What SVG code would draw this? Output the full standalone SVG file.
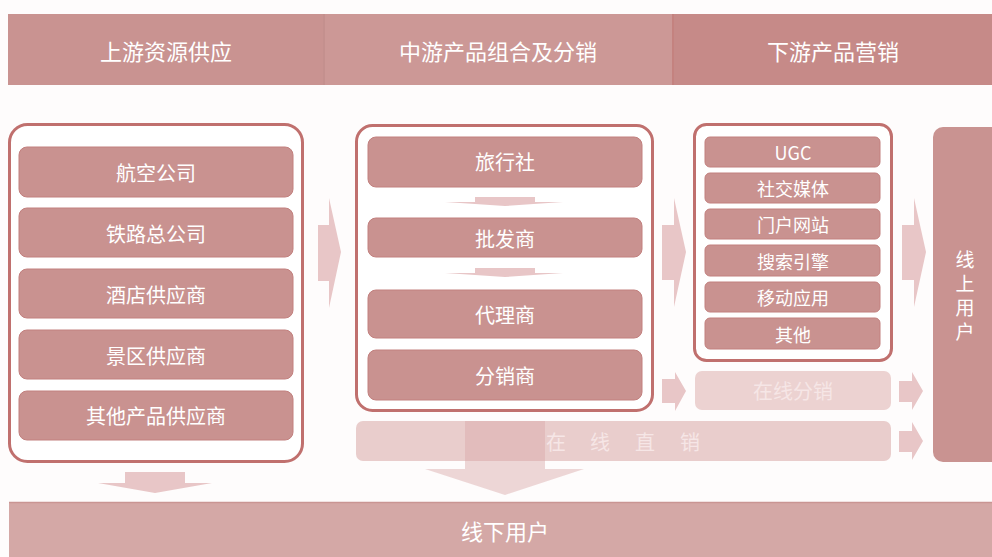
<svg xmlns="http://www.w3.org/2000/svg" width="992" height="557" viewBox="0 0 992 557">
<style>
text{font-family:"Noto Sans CJK SC","Noto Sans",sans-serif;fill:#ffffff;text-anchor:middle;dominant-baseline:central}
.hdr{font-size:22px}
.box{fill:#c99290;stroke:#c2807e;stroke-width:1}
.bt{font-size:20px}
.vt{font-size:19px;writing-mode:vertical-rl;letter-spacing:5px}
.st{font-size:18px}
.lt{font-size:20px;fill:#f6e6e6}
.cont{fill:#ffffff;stroke:#c0706e;stroke-width:3}
.arr{fill:#e8c6c7}
</style>
<rect width="992" height="557" fill="#fefcfc"/>
<g id="headers">
<rect x="8" y="14" width="316" height="71" fill="#c99391"/>
<rect x="324" y="14" width="349" height="71" fill="#cc9896"/>
<rect x="673" y="14" width="319" height="71" fill="#c68a88"/>
<line x1="324" y1="14" x2="324" y2="85" stroke="#c4908e" stroke-width="2"/>
<line x1="673" y1="14" x2="673" y2="85" stroke="#c4827f" stroke-width="2"/>
<text class="hdr" x="166" y="50">上游资源供应</text>
<text class="hdr" x="498" y="50">中游产品组合及分销</text>
<text class="hdr" x="833" y="50">下游产品营销</text>
</g>
<g id="upstream">
<rect class="cont" x="9.5" y="124.5" width="293" height="337" rx="18"/>
<g id="n-airline"><rect class="box" x="19" y="147" width="274" height="50" rx="8"/><text class="bt" x="156" y="172">航空公司</text></g>
<g id="n-rail"><rect class="box" x="19" y="208" width="274" height="49" rx="8"/><text class="bt" x="156" y="233">铁路总公司</text></g>
<g id="n-hotel"><rect class="box" x="19" y="269" width="274" height="49" rx="8"/><text class="bt" x="156" y="294">酒店供应商</text></g>
<g id="n-scenic"><rect class="box" x="19" y="330" width="274" height="49" rx="8"/><text class="bt" x="156" y="355">景区供应商</text></g>
<g id="n-other-sup"><rect class="box" x="19" y="391" width="274" height="49" rx="8"/><text class="bt" x="156" y="415">其他产品供应商</text></g>
</g>
<g id="midstream">
<rect class="cont" x="356.5" y="125.5" width="296" height="285" rx="16"/>
<g id="n-agency"><rect class="box" x="368" y="137" width="274" height="50" rx="8"/><text class="bt" x="505" y="161">旅行社</text></g>
<g id="n-wholesale"><rect class="box" x="368" y="218" width="274" height="39" rx="8"/><text class="bt" x="505" y="238">批发商</text></g>
<g id="n-agent"><rect class="box" x="368" y="290" width="274" height="48" rx="8"/><text class="bt" x="505" y="314">代理商</text></g>
<g id="n-distributor"><rect class="box" x="368" y="350" width="274" height="50" rx="8"/><text class="bt" x="505" y="375">分销商</text></g>
</g>
<g id="downstream">
<rect class="cont" x="694.5" y="124.5" width="197" height="236" rx="12"/>
<g id="n-ugc"><rect class="box" x="705" y="137" width="175" height="30" rx="5"/><text class="st" x="793" y="152">UGC</text></g>
<g id="n-social"><rect class="box" x="705" y="173" width="175" height="30" rx="5"/><text class="st" x="793" y="188">社交媒体</text></g>
<g id="n-portal"><rect class="box" x="705" y="209" width="175" height="30" rx="5"/><text class="st" x="793" y="224">门户网站</text></g>
<g id="n-search"><rect class="box" x="705" y="245" width="175" height="31" rx="5"/><text class="st" x="793" y="261">搜索引擎</text></g>
<g id="n-mobile"><rect class="box" x="705" y="282" width="175" height="30" rx="5"/><text class="st" x="793" y="297">移动应用</text></g>
<g id="n-other"><rect class="box" x="705" y="318" width="175" height="31" rx="5"/><text class="st" x="793" y="334">其他</text></g>
</g>
<g id="n-online-dist">
<rect x="695" y="371" width="196" height="39" rx="7" fill="#ecd2d1"/>
<text class="lt" x="793" y="390">在线分销</text>
</g>
<g id="n-online-direct">
<rect x="356" y="421" width="535" height="40" rx="7" fill="#e9cdcc"/>
</g>
<g id="n-online-users">
<rect x="933" y="127" width="70" height="335" rx="10" fill="#c99391"/>
<text class="vt" x="965" y="298">线上用户</text>
</g>
<g id="n-offline-users">
<rect x="9" y="502" width="990" height="60" fill="#d4a8a6"/>
<line x1="9" y1="502.5" x2="992" y2="502.5" stroke="#c99593" stroke-width="1.5"/>
<text class="hdr" x="505" y="530">线下用户</text>
</g>
<g id="connectors">
<path class="arr" d="M318,225H329V198L341,252L329,308V281H318Z"/>
<path class="arr" d="M662,225H674V198L686,252L674,307V280H662Z"/>
<path class="arr" d="M902,225H914V198L926,252L914,307V280H902Z"/>
<path class="arr" d="M662,379H675V372L686,391L675,411V403H662Z"/>
<path class="arr" d="M899,381H912V372L923,391L912,410V402H899Z"/>
<path class="arr" d="M899,431H912V422L923,441L912,460V452H899Z"/>
<path class="arr" d="M475,197H535V202H563L505,206L445,202H475Z"/>
<path class="arr" d="M475,268H535V273H563L505,277L445,273H475Z"/>
<path class="arr" d="M125,472H185V483H212L155,493L98,483H125Z"/>
<path d="M465,421H545V469H584L505,495L425,469H465Z" fill="#d9a9a8" fill-opacity="0.45"/>
</g>
<g id="online-direct-label">
<text class="lt" x="556" y="441">在</text>
<text class="lt" x="600" y="441">线</text>
<text class="lt" x="645" y="441">直</text>
<text class="lt" x="690" y="441">销</text>
</g>
</svg>
